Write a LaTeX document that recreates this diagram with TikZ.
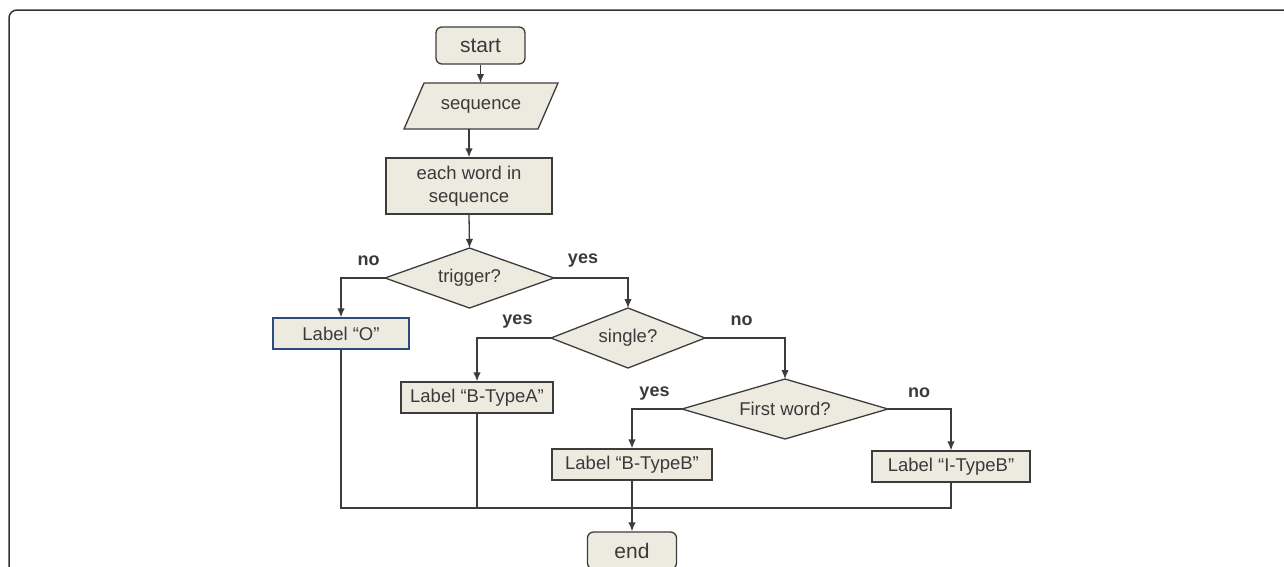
\documentclass[tikz,border=0pt]{standalone}
\usepackage{fontspec}
\setmainfont{Liberation Sans}
\usetikzlibrary{shapes.geometric,arrows.meta}
\definecolor{boxfill}{RGB}{237,235,224}
\definecolor{edgec}{RGB}{60,60,60}
\definecolor{txt}{RGB}{58,58,58}
\definecolor{blueedge}{RGB}{45,75,125}
\definecolor{framec}{RGB}{50,50,50}
\begin{document}
\begin{tikzpicture}[x=1pt,y=-1pt,
  box/.style={draw=edgec, fill=boxfill, line width=1.3pt, text=txt,
    font=\fontsize{18.5}{23}\selectfont, inner sep=0pt, minimum height=31pt, align=center},
  termbox/.style={box, rounded corners=6pt, minimum width=89pt, minimum height=37pt,
    font=\fontsize{21}{24}\selectfont},
  dec/.style={diamond, draw=edgec, fill=boxfill, line width=1.3pt, text=txt,
    font=\fontsize{18.5}{23}\selectfont, inner sep=0pt, outer sep=0pt, shape aspect=3},
  lab/.style={font=\bfseries\fontsize{18}{20}\selectfont, text=txt, inner sep=0pt},
  conn/.style={draw=edgec, line width=1.3pt},
  arr/.style={conn, -{Latex[length=9pt,width=7.5pt]}}
]
\useasboundingbox (0,0) rectangle (1284,566);
\clip (0,0) rectangle (1284,566);
\draw[draw=framec, line width=1.5pt, rounded corners=8pt] (9,10) rectangle (1330,640);

% nodes
\node[termbox] (start) at (480.5,45.5) {start};
\node[inner sep=0pt, outer sep=0pt, minimum width=134pt, minimum height=46pt] (seq) at (481,106) {};
\draw[draw=edgec, fill=boxfill, line width=1.3pt]
  ([xshift=10pt]seq.north west) -- ([xshift=10pt]seq.north east)
  -- ([xshift=-10pt]seq.south east) -- ([xshift=-10pt]seq.south west) -- cycle;
\node[inner sep=0pt, text=txt, font=\fontsize{18.5}{23}\selectfont] (seqtext) at (seq) {sequence};
\node[box, minimum width=166pt, minimum height=56pt] (each) at (469,186) {each word in\\sequence};
\node[dec, minimum width=169pt, minimum height=60pt] (trig) at (469.5,278) {trigger?};
\node[box, draw=blueedge, minimum width=136pt] (lo) at (341,333.5) {Label “O”};
\node[dec, minimum width=154pt, minimum height=60pt] (single) at (628,338) {single?};
\node[box, minimum width=152pt] (la) at (477,397.5) {Label “B-TypeA”};
\node[dec, minimum width=206pt, minimum height=60pt] (first) at (785,409) {First word?};
\node[box, minimum width=160pt] (lbb) at (632,464.5) {Label “B-TypeB”};
\node[box, minimum width=158pt] (lib) at (951,466.5) {Label “I-TypeB”};
\node[termbox] (end) at (632,550.5) {end};

% labels
\node[lab] (l1) at (368.6,261) {no};
\node[lab] (l2) at (583,261) {yes};
\node[lab] (l3) at (517.5,322) {yes};
\node[lab] (l4) at (741.5,321) {no};
\node[lab] (l5) at (654.5,394) {yes};
\node[lab] (l6) at (919,393) {no};

% connectors
\draw[arr] (start.south) -- (start.south |- seq.north);
\draw[arr] (each.north |- seq.south) -- (each.north);
\draw[arr] (each.south) -- (trig.north);
\draw[arr] (trig.west) -| (lo.north);
\draw[arr] (trig.east) -| (single.north);
\draw[arr] (single.west) -| (la.north);
\draw[arr] (single.east) -| (first.north);
\draw[arr] (first.west) -| (lbb.north);
\draw[arr] (first.east) -| (lib.north);
\coordinate (m) at (632,508);
\draw[conn] (lo.south) |- (m) -| (lib.south);
\draw[conn] (la.south) -- (la.south |- m);
\draw[arr] (lbb.south) -- (end.north);
\end{tikzpicture}
\end{document}
